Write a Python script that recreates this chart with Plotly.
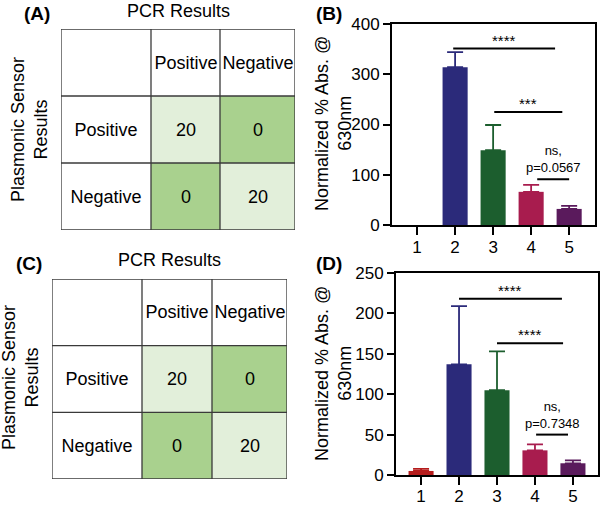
import plotly.graph_objects as go

# ---------------- data ----------------
groups = ["1", "2", "3", "4", "5"]
group_x = [1, 2, 3, 4, 5]
b_means = [0, 314, 149, 66, 32]
b_sd = [0, 30, 50, 14, 6]
d_means = [5, 137, 105, 30.5, 14.5]
d_sd = [2.5, 72, 48, 7.5, 3.5]

pcr_cols = ["Positive", "Negative"]
sensor_rows = ["Positive", "Negative"]
counts_a = [[20, 0], [0, 20]]
counts_c = [[20, 0], [0, 20]]

# significance brackets: (x start, x end, y, label)
b_sig = [(1.95, 4.63, 351, "****"), (3.03, 4.82, 225, "***"), (4.16, 5.0, 91, "ns,<br>p=0.0567")]
d_sig = [(2.0, 4.71, 218, "****"), (3.0, 4.74, 163, "****"), (4.03, 4.87, 50, "ns,<br>p=0.7348")]

# ---------------- style ----------------
bar_colors = ["#b51c1c", "#2b2a7a", "#1c5e2e", "#a81c4e", "#5a1a5c"]
light_green = "#e2efda"
dark_green = "#a9d18e"
grid_col = "#3a3a3a"
FONT = "Arial, Liberation Sans, sans-serif"
W, H = 602, 507

def px(x):
    return x / W

def py(y):
    return 1 - y / H

fig = go.Figure()
shapes = []
annotations = []

# ---------------- bar panels ----------------
def bar_panel(means, sds, sigs, xa, ya):
    for g, xv, m, s, c in zip(groups, group_x, means, sds, bar_colors):
        err = [s] if s > 0 else [None]
        fig.add_trace(go.Bar(
            x=[xv], y=[m], width=0.66, marker=dict(color=c, line=dict(width=0)),
            error_y=dict(type="data", array=err, arrayminus=[0], symmetric=False,
                         color=c, thickness=1.8, width=8, visible=s > 0),
            xaxis=xa, yaxis=ya, showlegend=False, hoverinfo="skip"))
    for (x0, x1, yv, lab) in sigs:
        shapes.append(dict(type="line", xref=xa, yref=ya, x0=x0, x1=x1, y0=yv, y1=yv,
                           line=dict(color="black", width=2)))
        is_ns = lab.startswith("ns")
        annotations.append(dict(xref=xa, yref=ya, x=(x0 + x1) / 2, y=yv, text=lab,
                                showarrow=False, yanchor="bottom",
                                yshift=2 if is_ns else -2,
                                font=dict(size=13 if is_ns else 15, family=FONT, color="black")))

bar_panel(b_means, b_sd, b_sig, "x", "y")
bar_panel(d_means, d_sd, d_sig, "x2", "y2")

axis_common = dict(showline=True, linewidth=2, linecolor="black", mirror=True,
                   ticks="outside", tickwidth=2, tickcolor="black", showgrid=False,
                   zeroline=False, automargin=False,
                   tickfont=dict(size=17, family=FONT, color="black"))

fig.update_layout(
    xaxis=dict(domain=[px(392), px(595)], range=[0.34, 5.68], tickvals=group_x, ticktext=groups,
               ticklen=8, ticklabelstandoff=-2, anchor="y", **axis_common),
    yaxis=dict(domain=[py(225), py(24)], range=[0, 400], dtick=100, ticklen=7, anchor="x",
               **axis_common),
    xaxis2=dict(domain=[px(396), px(598)], range=[0.34, 5.66], tickvals=group_x, ticktext=groups,
                ticklen=8, ticklabelstandoff=-3, anchor="y2", **axis_common),
    yaxis2=dict(domain=[py(475), py(273)], range=[0, 250], dtick=50, ticklen=7, anchor="x2",
                **axis_common),
)

# ---------------- tables ----------------
def table_panel(counts, xa, ya, col_widths):
    edges = [0]
    for w in col_widths:
        edges.append(edges[-1] + w)
    z = [[0, 0, 0]]
    text = [["", pcr_cols[0], pcr_cols[1]]]
    for r, rl in enumerate(sensor_rows):
        zr = [0]
        tr = [rl]
        for c in range(len(pcr_cols)):
            zr.append(1 if r == c else 2)
            tr.append(str(counts[r][c]))
        z.append(zr)
        text.append(tr)
    fig.add_trace(go.Heatmap(
        z=z, x=edges, y=[0, 1, 2, 3], text=text, texttemplate="%{text}",
        textfont=dict(size=18, family=FONT, color="black"),
        colorscale=[[0, "white"], [0.5, light_green], [1, dark_green]], zmin=0, zmax=2,
        showscale=False, hoverinfo="skip", xaxis=xa, yaxis=ya))
    for e in edges:
        shapes.append(dict(type="line", xref=xa, yref=ya, x0=e, x1=e, y0=0, y1=3,
                           line=dict(color=grid_col, width=1.3), layer="above"))
    for yv in [0, 1, 2, 3]:
        shapes.append(dict(type="line", xref=xa, yref=ya, x0=0, x1=edges[-1], y0=yv, y1=yv,
                           line=dict(color=grid_col, width=1.3), layer="above"))
    return edges

hid = dict(visible=False, showgrid=False, zeroline=False, fixedrange=True, automargin=False)
ea = table_panel(counts_a, "x3", "y3", [90, 69, 75])
ec = table_panel(counts_c, "x4", "y4", [90, 70, 75])

fig.update_layout(
    xaxis3=dict(domain=[px(61), px(295)], range=[0, ea[-1]], anchor="y3", **hid),
    yaxis3=dict(domain=[py(230), py(29)], range=[3, 0], anchor="x3", **hid),
    xaxis4=dict(domain=[px(52), px(287)], range=[0, ec[-1]], anchor="y4", **hid),
    yaxis4=dict(domain=[py(479), py(279)], range=[3, 0], anchor="x4", **hid),
)

# ---------------- text labels ----------------
def ann(x, y, text, size=18, bold=False, angle=0):
    annotations.append(dict(xref="paper", yref="paper", x=px(x), y=py(y), text=text,
                            showarrow=False, textangle=angle, xanchor="center", yanchor="middle",
                            font=dict(size=size, family=FONT, color="black",
                                      weight="bold" if bold else "normal")))

ann(37, 13, "(A)", 19, True)
ann(329, 13, "(B)", 19, True)
ann(29, 263, "(C)", 19, True)
ann(329, 263, "(D)", 19, True)
ann(178, 11, "PCR Results")
ann(169, 260, "PCR Results")
ann(29, 130, "Plasmonic Sensor<br>Results", angle=-90)
ann(20, 378, "Plasmonic Sensor<br>Results", angle=-90)
ann(333, 124, "Normalized % Abs. @<br>630nm", angle=-90)
ann(333, 374, "Normalized % Abs. @<br>630nm", angle=-90)

fig.update_layout(
    width=W, height=H, margin=dict(l=0, r=0, t=0, b=0, autoexpand=False),
    paper_bgcolor="white", plot_bgcolor="white", barmode="overlay",
    shapes=shapes, annotations=annotations, showlegend=False,
    font=dict(family=FONT, color="black"),
)

fig.write_html("out.html", config={"displayModeBar": False},
               post_script="document.body.style.margin='0';")
